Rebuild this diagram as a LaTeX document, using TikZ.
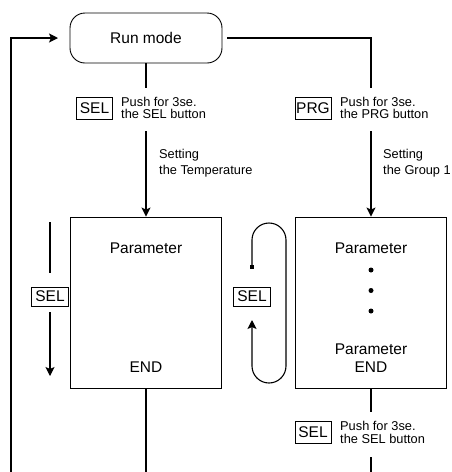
\documentclass[tikz,border=0pt]{standalone}
\usepackage{fontspec}
\setmainfont{Liberation Sans}
\usetikzlibrary{arrows.meta}
\begin{document}
\begin{tikzpicture}[x=1pt,y=-1pt,
  line/.style={line width=1.1pt},
  box/.style={draw,line width=0.9pt,inner sep=0pt,font=\fontsize{15.5}{18}\selectfont},
  key/.style={draw,line width=0.8pt,inner sep=0pt,minimum width=36pt,minimum height=22pt,font=\fontsize{15.5}{15.5}\selectfont},
  keys/.style={key,minimum width=37pt,minimum height=19pt},
  note/.style={inner sep=0pt,align=left,anchor=west,font=\fontsize{12.8}{12.8}\selectfont},
  note2/.style={note,font=\fontsize{12.8}{15.5}\selectfont},
  big/.style={font=\fontsize{15.5}{18}\selectfont,inner sep=0pt},
  dot/.style={circle,fill,inner sep=0pt,minimum size=5pt},
  arr/.style={line,-{Stealth[length=9pt,width=9pt,inset=2pt]}}
]
\useasboundingbox (0,0) rectangle (452,472);

% main boxes
\node[box,rounded corners=15pt,minimum width=152pt,minimum height=50pt] (run) at (146,38) {Run mode};
\node[box,minimum width=151pt,minimum height=171pt] (p1) at (146,302.5) {};
\node[box,minimum width=151pt,minimum height=171pt] (p2) at (371,302.5) {};

% texts inside boxes
\node[big] (p1a) at (146,248) {Parameter};
\node[big] (p1e) at (146,367) {END};
\node[big] (p2a) at (371,248) {Parameter};
\node[dot] (d1) at (371,270) {};
\node[dot] (d2) at (371,290.5) {};
\node[dot] (d3) at (371,311) {};
\node[big] (p2b) at (371,349) {Parameter};
\node[big] (p2e) at (371,367) {END};

% left branch from run mode
\coordinate (c1) at (146,88);
\coordinate (c2) at (146,131);
\draw[line] (run) -- (c1);
\draw[arr] (c2) -- (c2 |- p1.north);
\node[key] (sel1) at (94.5,108) {SEL};
\node[note] (n1) at (121,108) {Push for 3se.\\the SEL button};
\node[note2] (n2) at (159,163) {Setting\\the Temperature};

% right branch from run mode
\coordinate (r1) at (371,88);
\coordinate (r2) at (371,131);
\draw[line,shorten <=5pt] (run.east) -| (r1);
\draw[arr] (r2) -- (r2 |- p2.north);
\node[key] (prg) at (313,108) {PRG};
\node[note] (n3) at (340,108) {Push for 3se.\\the PRG button};
\node[note2] (n4) at (383,163) {Setting\\the Group 1};

% return loop on the far left
\coordinate (l0) at (11,472);
\coordinate (l1) at (58,38);
\draw[arr] (l0) |- (l1);

% SEL arrow beside left box
\coordinate (s1) at (50,222);
\coordinate (s2) at (50,273);
\coordinate (s3) at (50,312);
\coordinate (s4) at (50,376);
\draw[line] (s1) -- (s2);
\node[keys] (sel2) at (50,296.5) {SEL};
\draw[arr] (s3) -- (s4);

% oval loop between boxes
\node[fill,inner sep=0pt,minimum size=4pt] (sq) at (252,267) {};
\coordinate (lp) at (252,320);
\draw[arr] (sq.center) -- ++(0,-27) arc[start angle=180,end angle=360,radius=17]
  -- ++(0,126) arc[start angle=0,end angle=180,radius=17] -- (lp);
\node[keys,fill=white] (sel3) at (252,296.5) {SEL};

% bottom
\coordinate (b1) at (146,472);
\draw[line] (p1) -- (b1);
\coordinate (r3) at (371,412);
\coordinate (r4) at (371,457);
\coordinate (r5) at (371,472);
\draw[line] (p2) -- (r3);
\node[key] (sel4) at (313,432.5) {SEL};
\node[note] (n5) at (340,432.5) {Push for 3se.\\the SEL button};
\draw[line] (r4) -- (r5);
\end{tikzpicture}
\end{document}
